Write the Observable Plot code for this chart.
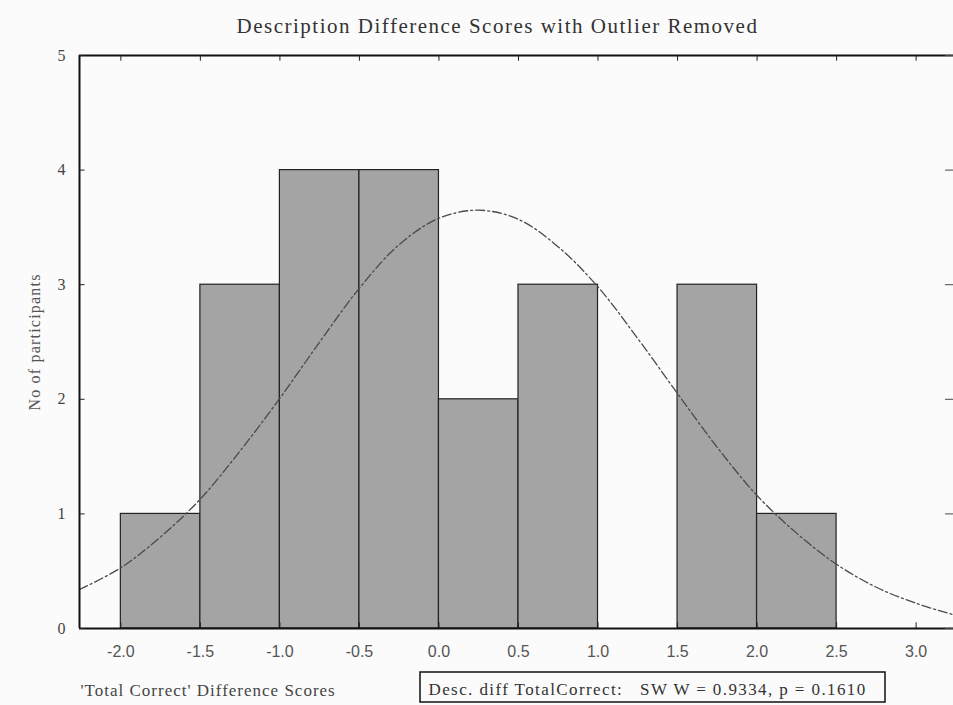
<!DOCTYPE html>
<html>
<head>
<meta charset="utf-8">
<script src="https://cdn.jsdelivr.net/npm/d3@7"></script>
<script src="https://cdn.jsdelivr.net/npm/@observablehq/plot@0.6"></script>
<style>
  html, body { margin: 0; padding: 0; background: #fbfbfb; }
  #chart svg { display: block; }
</style>
</head>
<body>
<div id="chart"></div>
<script>
// Histogram bins and counts
const binStart = [-2.0, -1.5, -1.0, -0.5, 0.0, 0.5, 1.0, 1.5, 2.0];
const binEnd   = [-1.5, -1.0, -0.5, 0.0, 0.5, 1.0, 1.5, 2.0, 2.5];
const counts   = [1, 3, 4, 4, 2, 3, 0, 3, 1];

// Fitted normal curve
const curveX = [-2.26, -2.0, -1.75, -1.5, -1.25, -1.0, -0.75, -0.5, -0.25, 0.0, 0.25, 0.5, 0.75, 1.0, 1.25, 1.5, 1.75, 2.0, 2.25, 2.5, 2.75, 3.0, 3.235];
const curveY = [0.34, 0.53, 0.80, 1.13, 1.55, 2.01, 2.50, 2.97, 3.35, 3.58, 3.65, 3.57, 3.33, 2.98, 2.53, 2.05, 1.58, 1.16, 0.83, 0.56, 0.36, 0.22, 0.12];

// Tick labels
const xTicks = [-2.0, -1.5, -1.0, -0.5, 0.0, 0.5, 1.0, 1.5, 2.0, 2.5, 3.0];
const yTicks = [0, 1, 2, 3, 4, 5];

const title = "Description Difference Scores with Outlier Removed";
const xLabel = "'Total Correct' Difference Scores";
const yLabel = "No of participants";
const statText = "Desc. diff TotalCorrect:   SW W = 0.9334, p = 0.1610";

const xDomain = [-2.26, 3.235];
const yDomain = [0, 5];

const bars = binStart.map((s, i) => ({x1: s, x2: binEnd[i], y: counts[i]})).filter(d => d.y > 0);
const curve = curveX.map((x, i) => ({x, y: curveY[i]}));

const serif = "'Liberation Serif', 'DejaVu Serif', serif";
const sans = "'Liberation Sans', Arial, sans-serif";

const chart = Plot.plot({
  width: 953,
  height: 705,
  marginLeft: 79,
  marginRight: 0,
  marginTop: 55,
  marginBottom: 77,
  style: {background: "#fbfbfb", fontFamily: serif},
  x: {domain: xDomain, axis: null},
  y: {domain: yDomain, axis: null},
  marks: [
    Plot.rectY(bars, {x1: "x1", x2: "x2", y1: 0, y2: "y", fill: "#a4a4a4", stroke: "#222", strokeWidth: 1.2}),
    Plot.line(curve, {x: "x", y: "y", curve: "catmull-rom", stroke: "#4a4a4a", strokeWidth: 1.3, strokeDasharray: "9,3,2,3"}),
    // frame lines
    Plot.ruleY([0], {stroke: "#111", strokeWidth: 2}),
    Plot.ruleY([5], {stroke: "#111", strokeWidth: 2}),
    Plot.ruleX([xDomain[0]], {stroke: "#111", strokeWidth: 2}),
    // inward ticks
    Plot.ruleX(xTicks, {x: d => d, y1: 0, y2: 0.05, stroke: "#222"}),
    Plot.ruleX(xTicks, {x: d => d, y1: 5, y2: 4.95, stroke: "#222"}),
    Plot.ruleY(yTicks, {y: d => d, x1: xDomain[0], x2: xDomain[0] + 0.035, stroke: "#222"}),
    Plot.ruleY(yTicks, {y: d => d, x1: xDomain[1], x2: xDomain[1] - 0.05, stroke: "#444"}),
    // tick labels
    Plot.text(xTicks, {x: d => d, y: 0, text: d => d.toFixed(1), dy: 23, fontFamily: sans, fontSize: 16, fill: "#555", lineAnchor: "middle", style: "letter-spacing:1.5px"}),
    Plot.text(yTicks, {x: xDomain[0], y: d => d, text: d => String(d), dx: -18, fontFamily: serif, fontSize: 16, fill: "#444", lineAnchor: "middle"}),
    // titles
    Plot.text([title], {frameAnchor: "top", lineAnchor: "middle", dx: -19, dy: -29, fontSize: 21, fill: "#333", fontFamily: serif}),
    Plot.text([yLabel], {frameAnchor: "left", textAnchor: "middle", lineAnchor: "middle", rotate: -90, dx: -45, fontSize: 16, fill: "#555", fontFamily: serif}),
    Plot.text([xLabel], {frameAnchor: "bottom-left", textAnchor: "start", lineAnchor: "middle", dx: 1, dy: 62, fontSize: 17, fill: "#444", fontFamily: serif}),
    Plot.text([statText], {frameAnchor: "bottom-left", textAnchor: "start", lineAnchor: "middle", dx: 349, dy: 61, fontSize: 17, fill: "#333", fontFamily: serif})
  ]
});

const svg = d3.select(chart);
// letter spacing to match the scanned lettering
svg.selectAll("text").attr("xml:space", "preserve").style("white-space", "pre");
svg.selectAll("text").filter(function() { return this.textContent === title; }).style("letter-spacing", "1.5px");
svg.selectAll("text").filter(function() { return this.textContent === xLabel; }).style("letter-spacing", "1px");
svg.selectAll("text").filter(function() { return this.textContent === yLabel; }).style("letter-spacing", "1.2px");
svg.selectAll("text").filter(function() { return this.textContent === statText; }).style("letter-spacing", "1.4px");
// stats box around the SW text
svg.append("rect")
  .attr("x", 420).attr("y", 672).attr("width", 465).attr("height", 30)
  .attr("fill", "none").attr("stroke", "#111").attr("stroke-width", 1.5);

document.getElementById("chart").appendChild(chart);
</script>
</body>
</html>
